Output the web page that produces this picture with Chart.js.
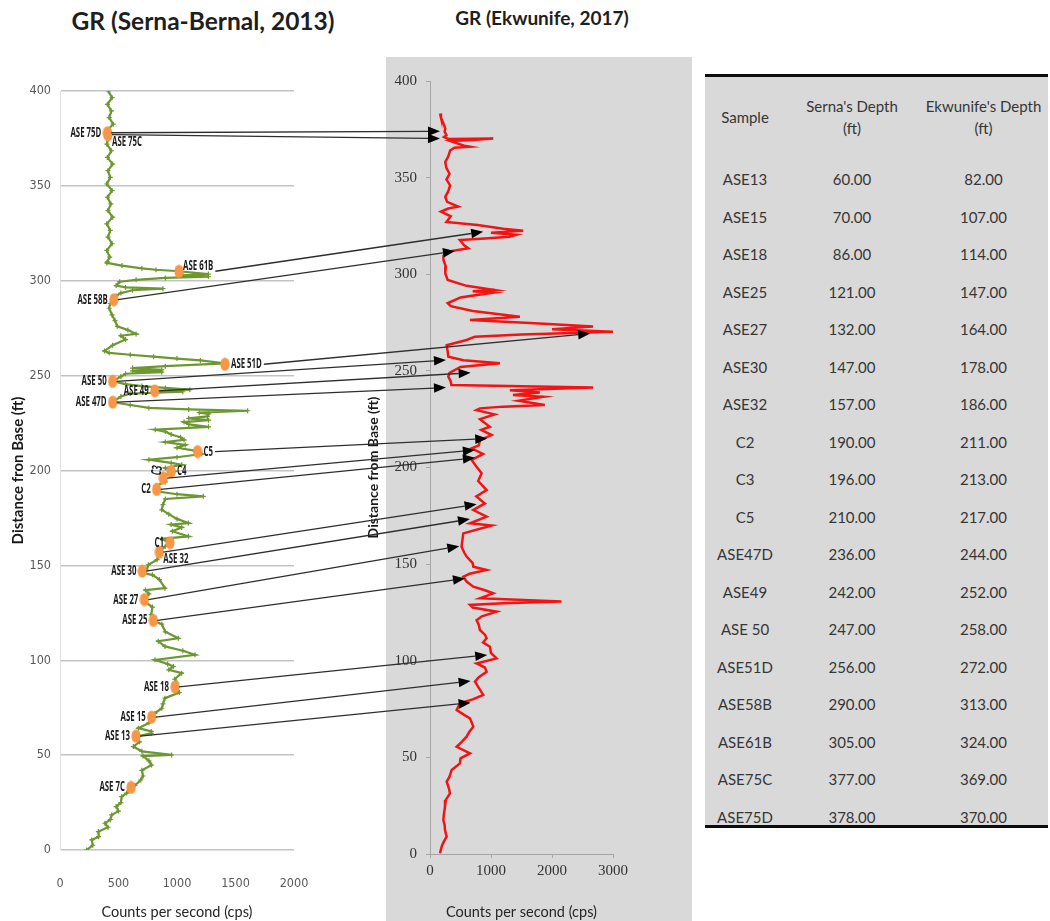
<!DOCTYPE html>
<html>
<head>
<meta charset="utf-8">
<title>GR log correlation</title>
<script src="https://cdn.jsdelivr.net/npm/chart.js@4.4.1/dist/chart.umd.min.js"></script>
<style>
  html, body { margin: 0; padding: 0; background: #fff; }
  body { width: 1050px; height: 921px; position: relative; overflow: hidden; font-family: Lato, "Open Sans", sans-serif; }
  canvas { position: absolute; }
  .head { position: absolute; font-weight: bold; color: #1e1e1e; white-space: nowrap; transform: translateX(-50%); line-height: 1.2; }
  #tbl { position: absolute; left: 705px; top: 74px; width: 343px; height: 748px; background: #d9d9d9;
         border-top: 3px solid #0d0d0d; border-bottom: 3px solid #0d0d0d; overflow: hidden; color: #363636; font-size: 15px; }
  #tbl .row { position: absolute; left: 0; width: 343px; display: flex; align-items: center; }
  #tbl .row span { display: block; text-align: center; }
  #tbl .c1 { width: 80px; } #tbl .c2 { width: 134px; } #tbl .c3 { width: 129px; }
  #tbl .hd { line-height: 22px; }
</style>
</head>
<body>
<div class="head" style="left:203px;top:6px;font-size:24.5px">GR (Serna-Bernal, 2013)</div>
<div class="head" style="left:542px;top:7px;font-size:19px">GR (Ekwunife, 2017)</div>
<canvas id="serna" width="320" height="861" style="left:0;top:60px"></canvas>
<canvas id="ekw" width="332" height="866" style="left:360px;top:55px"></canvas>
<div id="tbl"></div>
<canvas id="arrows" width="1050" height="921" style="left:0;top:0;pointer-events:none"></canvas>
<script>
// GR log, Serna-Bernal (2013): depth from base (ft) and counts per second
const sernaDepth = [
  400, 396.5, 393, 389.5, 386, 382.5, 379, 375.5, 372, 368.5, 365, 361.5, 358, 354.5, 351, 347.5, 344, 340.5,
  337, 333.5, 330, 326.5, 323, 319.5, 316, 312.5, 310,
  309.4, 308, 306.5, 305.8, 305, 303.5, 302.8, 302.2, 301.5, 300.5, 299.5, 297.5, 296.5, 295.8, 295, 293.5,
  292, 290, 288, 285.5, 282, 279, 276, 274, 272, 271, 269, 266, 263, 262, 261, 260, 259, 258, 256.5, 255,
  254, 253, 252.5, 251.8, 251, 249.5, 247, 245.5, 244.5, 243.5, 242.6, 242, 241.5, 240.5, 239, 236, 234.5,
  233, 232.2, 231.5, 230.5, 229.8, 228.5, 227.5, 226.5, 225.5, 224.3, 223, 221.5, 220.5, 219, 217.5, 216.2,
  215, 213.5, 212, 210.5, 209.6, 208.7, 207, 205.7, 204, 203, 201.3, 199.5,
  198.7, 197.5, 196, 194, 192, 189, 187.5, 186.4, 185, 182, 179.3, 177, 174.5, 172.3, 171.5, 170, 168, 165.3,
  164, 161.7, 160, 158, 156, 153, 150.3, 147.5, 145.9, 145, 142.5, 138, 137, 135, 131, 128, 124, 120.8, 119,
  115, 111.6, 110, 107.3, 105, 102.9, 100.2, 98, 96.7, 95, 93.2, 90, 88, 85.3, 83, 80, 77, 74.7, 72, 69.5,
  67, 64.2, 62.5, 61.5, 59.8, 57, 54.5, 52, 50.1, 49.5, 47, 44.8, 42, 39, 36.9, 34, 32.5, 30, 28.1, 25,
  22.9, 20.5, 18.5, 16, 14.1, 12, 9.7, 7, 5.3, 2.5, 0
];
const sernaCps = [
  413, 445, 405, 440, 420, 455, 400, 415, 400, 440, 405, 450, 410, 430, 400, 445, 405, 435,
  410, 450, 400, 430, 410, 445, 400, 425, 405,
  400, 530, 700, 820, 1017, 1268, 1050, 1268, 900, 650, 510, 480, 560, 880, 620, 520,
  480, 460, 430, 420, 445, 470, 490, 580, 650, 520, 560, 450, 380, 420, 600, 800, 1000, 1200, 1410, 900,
  620, 870, 620, 870, 560, 520, 450, 560, 700, 900, 1110, 800, 1050, 600, 520, 450, 600,
  760, 1100, 1604, 1190, 1270, 1260, 1100, 1270, 1060, 1100, 1270, 815, 900, 950, 1030, 1060,
  900, 1070, 1000, 1150, 1176, 1210, 1000, 760, 950, 1040, 900, 980,
  949, 900, 883, 900, 820, 826, 1000, 1225, 900, 880, 869, 930, 1000, 1097, 950, 1040, 960, 1097,
  870, 940, 900, 860, 849, 830, 755, 740, 704, 790, 850, 897, 730, 760, 721, 790, 780, 798, 870,
  900, 1011, 840, 897, 1050, 1154, 812, 920, 969, 930, 1040, 980, 1000, 983, 1020, 897, 880, 870, 810, 783,
  760, 670, 780, 780, 650, 680, 627, 700, 954, 710, 760, 783, 700, 710, 690, 640, 607, 570, 527, 520,
  480, 500, 442, 430, 384, 410, 328, 330, 271, 280, 228
];

// GR log, Ekwunife (2017)
const ekwDepth = [
  383.2, 381, 378, 375.5, 373.7, 372, 371, 370, 370.2, 369.5,
  369, 368, 366.5, 366, 365.5, 364, 361, 358, 355, 352,
  349, 346, 343, 340, 337.5, 335, 334, 332.4, 330, 327,
  325.5, 323.5, 322.5, 321.5, 320.5, 319.4, 318.5, 317.7, 315, 313.4,
  311.7, 309.5, 307.4, 304, 300.5, 297, 294, 291.8, 291.2, 290.5,
  288, 285, 283.5, 281, 278, 276.3, 274.5, 273, 271.5, 270.3,
  269.5, 268.8, 267.7, 266, 263.3, 260, 257.3, 255.5, 253.9, 252,
  249, 247, 244.5, 242.7, 241.4, 240, 238.8, 237.5, 236.6, 234.5,
  232.3, 231.5, 230.6, 229.7, 227.5, 225, 221.1, 219.5, 216.8, 214.2,
  211.5, 209.9, 207, 203.9, 200.5, 197, 193, 188.3, 185, 181.4,
  178, 174.6, 171.1, 170, 165.9, 162, 159, 156, 153.9, 150.5,
  148.7, 147, 145, 143.5, 141, 138.3, 136.5, 134.9, 132.3, 130.6,
  129.8, 128.9, 127.5, 125.4, 123, 121, 118.5, 115.9, 113.5, 111.6,
  109.5, 107.3, 104, 101.2, 98.6, 96.5, 94.3, 91.5, 89.2, 86,
  82.3, 80, 78, 74.5, 72, 70.2, 65.9, 63, 60.7, 58,
  55.5, 52.1, 49.5, 46.9, 43.5, 40, 37.4, 34, 31.4, 28,
  24.5, 21, 17.6, 15, 12.4, 9, 6, 3.8, 0.4
];
const ekwCps = [
  164, 180, 220, 250, 240, 270, 230, 300, 1037, 700,
  330, 420, 560, 650, 400, 330, 300, 250, 270, 320,
  270, 330, 300, 250, 280, 464, 300, 180, 340, 270,
  780, 1200, 1528, 1000, 1419, 1300, 900, 490, 560, 628,
  300, 220, 220, 260, 250, 290, 600, 1064, 700, 1030,
  500, 290, 340, 700, 1473, 655, 1800, 2673, 2000, 3000,
  2200, 1500, 737, 600, 273, 290, 300, 550, 1146, 500,
  320, 300, 340, 350, 2673, 1310, 1800, 1360, 1855, 1450,
  1882, 1200, 818, 760, 1060, 820, 980, 840, 1010, 818,
  800, 682, 870, 682, 760, 846, 790, 928, 760, 900,
  710, 928, 655, 1010, 546, 530, 518, 560, 600, 700,
  710, 928, 650, 546, 600, 710, 900, 1037, 818, 2155,
  1200, 655, 700, 1091, 850, 764, 800, 818, 900, 928,
  870, 982, 1000, 1091, 764, 900, 928, 800, 737, 800,
  873, 700, 491, 437, 560, 655, 710, 640, 600, 520,
  437, 655, 500, 491, 355, 320, 273, 310, 327, 260,
  246, 230, 218, 240, 246, 273, 220, 191, 164
];

// samples marked on the Serna-Bernal log
const sampleLabels = ['ASE 75D', 'ASE 75C', 'ASE 61B', 'ASE 58B', 'ASE 51D', 'ASE 50', 'ASE 49', 'ASE 47D',
  'C5', 'C4', 'C3', 'C2', 'C1', 'ASE 32', 'ASE 30', 'ASE 27', 'ASE 25', 'ASE 18', 'ASE 15', 'ASE 13', 'ASE 7C'];
const sampleDepth = [378, 377, 305, 290, 256, 247, 242, 236, 210, 199.5, 196, 190, 162, 157, 147, 132, 121, 86, 70, 60, 33];
const sampleCps = [405, 410, 1017, 460, 1410, 450, 810, 450, 1176, 949, 883, 826, 940, 849, 704, 721, 798, 983, 783, 650, 607];

// depth correlation table
const tableSamples = ['ASE13', 'ASE15', 'ASE18', 'ASE25', 'ASE27', 'ASE30', 'ASE32', 'C2', 'C3', 'C5',
  'ASE47D', 'ASE49', 'ASE 50', 'ASE51D', 'ASE58B', 'ASE61B', 'ASE75C', 'ASE75D'];
const sernaTableDepth = [60, 70, 86, 121, 132, 147, 157, 190, 196, 210, 236, 242, 247, 256, 290, 305, 377, 378];
const ekwTableDepth = [82, 107, 114, 147, 164, 178, 186, 211, 213, 217, 244, 252, 258, 272, 313, 324, 369, 370];

// where each correlation arrow lands on the Ekwunife log (same order as the table)
const arrowTipDepth = [78.3, 89.5, 103, 142.6, 159.3, 173.3, 181, 205, 209, 215, 241.4, 249, 255.6, 269.3, 312, 322, 370.2, 374];
const arrowTipCps = [666, 666, 938, 573, 480, 655, 764, 736, 736, 938, 262, 666, 262, 2625, 409, 872, 164, 164];

const depthTicks = [0, 50, 100, 150, 200, 250, 300, 350, 400];
const sernaCpsTicks = [0, 500, 1000, 1500, 2000];
const ekwCpsTicks = [0, 1000, 2000, 3000];

const narrow = '"Liberation Sans Narrow", "DejaVu Sans Condensed", sans-serif';
const serif = '"Liberation Serif", "DejaVu Serif", serif';
const sans = 'Lato, "Open Sans", sans-serif';

// label placement around the orange sample dots (default is to the left)
const labelSide = { 'ASE 75C': 'rb', 'ASE 61B': 'rt', 'ASE 51D': 'r', 'C5': 'r', 'C4': 'r', 'ASE 32': 'rb', 'C3': 'v' };
const labelFont = 'bold 14px "Open Sans", sans-serif';
const squeeze = 0.56;

const pts = (xs, ys) => ys.map((d, i) => ({ x: xs[i], y: d }));
const fixedTicks = vals => scale => { scale.ticks = vals.map(v => ({ value: v })); };
const plainLabel = v => String(v);
// keep the plot area where the layout puts it, whatever the edge labels need
const noEdgePad = size => s => {
  if (s.isHorizontal()) { s.height = size; s.paddingLeft = 0; s.paddingRight = 0; }
  else { s.width = size; s.paddingTop = 0; s.paddingBottom = 0; }
};

// orange elliptical marker
const dot = document.createElement('canvas');
dot.width = 10; dot.height = 14;
(function () {
  const c = dot.getContext('2d');
  c.fillStyle = '#f79646';
  c.beginPath();
  c.ellipse(5, 7, 4.6, 6.6, 0, 0, Math.PI * 2);
  c.fill();
})();

function labelBox(ctx, text, px, py) {
  const w = ctx.measureText(text).width * squeeze;
  const side = labelSide[text] || 'l';
  if (side === 'r') return { side, x: px + 6, y: py, w };
  if (side === 'rb') return { side, x: px + 4, y: py + 7, w };
  if (side === 'rt') return { side, x: px + 4, y: py - 5, w };
  return { side, x: px - 6 - w, y: py, w };
}

const sampleLabelPlugin = {
  id: 'sampleLabels',
  afterDatasetsDraw(chart) {
    const { ctx, scales: { x, y } } = chart;
    ctx.save();
    ctx.font = labelFont;
    ctx.fillStyle = '#1c1c1c';
    ctx.textBaseline = 'middle';
    sampleLabels.forEach((t, i) => {
      const px = x.getPixelForValue(sampleCps[i]);
      const py = y.getPixelForValue(sampleDepth[i]);
      const b = labelBox(ctx, t, px, py);
      ctx.save();
      if (b.side === 'v') {
        ctx.translate(px - 7, py - 3);
        ctx.rotate(-1.35);
      } else {
        ctx.translate(b.x, b.y);
      }
      ctx.scale(squeeze, 1);
      ctx.fillText(t, 0, 0);
      ctx.restore();
    });
    ctx.restore();
  }
};

const grayPanel = {
  id: 'grayPanel',
  beforeDraw(chart) {
    const { ctx, width, height } = chart;
    ctx.save();
    ctx.fillStyle = '#d9d9d9';
    ctx.fillRect(26, 2, width - 26, height - 2);
    ctx.restore();
  }
};

const sernaChart = new Chart(document.getElementById('serna'), {
  type: 'scatter',
  data: {
    datasets: [
      { data: pts(sampleCps, sampleDepth), pointStyle: dot, pointRadius: 6, order: 0 },
      { data: pts(sernaCps, sernaDepth), showLine: true, borderColor: '#6c9731', borderWidth: 2.2,
        pointStyle: 'cross', pointRadius: 2.5, pointBorderColor: '#6c9731', pointBorderWidth: 1.2, order: 1 }
    ]
  },
  options: {
    responsive: false,
    animation: false,
    events: [],
    layout: { padding: { top: 31, right: 26, left: 0, bottom: 0 } },
    plugins: { legend: { display: false }, tooltip: { enabled: false } },
    scales: {
      x: {
        type: 'linear', min: sernaCpsTicks[0], max: sernaCpsTicks[sernaCpsTicks.length - 1],
        afterBuildTicks: fixedTicks(sernaCpsTicks),
        afterFit: noEdgePad(71),
        grid: { display: false, drawTicks: false },
        border: { display: false },
        ticks: { color: '#595959', font: { family: narrow, size: 12.5 }, padding: 26, callback: plainLabel },
        title: { display: true, text: 'Counts per second (cps)', color: '#262626',
                 font: { family: sans, size: 14.5 }, padding: { top: 4, bottom: 0 } }
      },
      y: {
        type: 'linear', min: depthTicks[0], max: depthTicks[depthTicks.length - 1],
        afterBuildTicks: fixedTicks(depthTicks),
        afterFit: noEdgePad(60),
        grid: { color: '#c3c3c3', lineWidth: 1.5, drawTicks: false },
        border: { display: true, color: '#e2e2e2' },
        ticks: { color: '#595959', font: { family: narrow, size: 12.5 }, padding: 9, callback: plainLabel },
        title: { display: true, text: 'Distance fron Base (ft)', color: '#1a1a1a',
                 font: { family: sans, size: 15, weight: 'bold' }, padding: { top: 9, bottom: 0 } }
      }
    }
  },
  plugins: [sampleLabelPlugin]
});

const ekwChart = new Chart(document.getElementById('ekw'), {
  type: 'scatter',
  data: {
    datasets: [
      { data: pts(ekwCps, ekwDepth), showLine: true, borderColor: '#f21414', borderWidth: 2.5, pointRadius: 0 }
    ]
  },
  options: {
    responsive: false,
    animation: false,
    events: [],
    layout: { padding: { top: 26, right: 79, left: 0, bottom: 0 } },
    plugins: { legend: { display: false }, tooltip: { enabled: false } },
    scales: {
      x: {
        type: 'linear', min: ekwCpsTicks[0], max: ekwCpsTicks[ekwCpsTicks.length - 1],
        afterBuildTicks: fixedTicks(ekwCpsTicks),
        afterFit: noEdgePad(67),
        grid: { drawOnChartArea: false, color: '#a6a6a6', tickLength: 4 },
        border: { color: '#a6a6a6' },
        ticks: { color: '#333', font: { family: serif, size: 15 }, padding: 4, callback: plainLabel },
        title: { display: true, text: 'Counts per second (cps)', color: '#262626',
                 font: { family: sans, size: 14.5 }, padding: { top: 4, bottom: 0 } }
      },
      y: {
        type: 'linear', min: depthTicks[0], max: depthTicks[depthTicks.length - 1],
        afterBuildTicks: fixedTicks(depthTicks),
        afterFit: noEdgePad(70),
        grid: { drawOnChartArea: false, color: '#a6a6a6', tickLength: 4 },
        border: { color: '#a6a6a6' },
        ticks: { color: '#333', font: { family: serif, size: 15 }, padding: 9, callback: plainLabel },
        title: { display: true, text: 'Distance from Base (ft)', color: '#1a1a1a',
                 font: { family: sans, size: 14, weight: 'bold' }, padding: { top: 4.6, bottom: 0 } }
      }
    }
  },
  plugins: [grayPanel]
});

// correlation arrows from each sample on the left log to its match on the right log
function drawArrows() {
  const cv = document.getElementById('arrows');
  const ctx = cv.getContext('2d');
  ctx.clearRect(0, 0, cv.width, cv.height);
  const lc = sernaChart.canvas, rc = ekwChart.canvas;
  const sx = sernaChart.scales.x, sy = sernaChart.scales.y;
  const ex = ekwChart.scales.x, ey = ekwChart.scales.y;
  ctx.font = labelFont;
  ctx.strokeStyle = '#2e2e2e';
  ctx.fillStyle = '#000';
  ctx.lineWidth = 1.3;
  tableSamples.forEach((name, i) => {
    const j = sampleLabels.findIndex(l => l.replace(/\s/g, '') === name.replace(/\s/g, ''));
    if (j < 0) return;
    const px = sx.getPixelForValue(sampleCps[j]);
    const py = sy.getPixelForValue(sampleDepth[j]);
    const b = labelBox(ctx, sampleLabels[j], px, py);
    const x1 = lc.offsetLeft + ((b.side === 'r' || b.side === 'rt') ? b.x + b.w + 2 : px + 4);
    const y1 = lc.offsetTop + py;
    const x2 = rc.offsetLeft + ex.getPixelForValue(arrowTipCps[i]);
    const y2 = rc.offsetTop + ey.getPixelForValue(arrowTipDepth[i]);
    const a = Math.atan2(y2 - y1, x2 - x1);
    const head = 12, half = 4.8;
    const bx = x2 - head * Math.cos(a), by = y2 - head * Math.sin(a);
    ctx.beginPath();
    ctx.moveTo(x1, y1);
    ctx.lineTo(bx, by);
    ctx.stroke();
    ctx.beginPath();
    ctx.moveTo(x2, y2);
    ctx.lineTo(bx + half * Math.sin(a), by - half * Math.cos(a));
    ctx.lineTo(bx - half * Math.sin(a), by + half * Math.cos(a));
    ctx.closePath();
    ctx.fill();
  });
}
drawArrows();

// table of sample depths
(function () {
  const tbl = document.getElementById('tbl');
  let html = '<div class="row" style="top:0;height:83px;padding-bottom:4px;box-sizing:border-box">' +
    '<span class="c1">Sample</span><span class="c2 hd">Serna\'s Depth<br>(ft)</span>' +
    '<span class="c3 hd">Ekwunife\'s Depth<br>(ft)</span></div>';
  tableSamples.forEach((s, i) => {
    html += '<div class="row" style="top:' + (83.25 + i * 37.5) + 'px;height:37.5px">' +
      '<span class="c1">' + s + '</span><span class="c2">' + sernaTableDepth[i].toFixed(2) + '</span>' +
      '<span class="c3">' + ekwTableDepth[i].toFixed(2) + '</span></div>';
  });
  tbl.innerHTML = html;
})();
</script>
</body>
</html>
